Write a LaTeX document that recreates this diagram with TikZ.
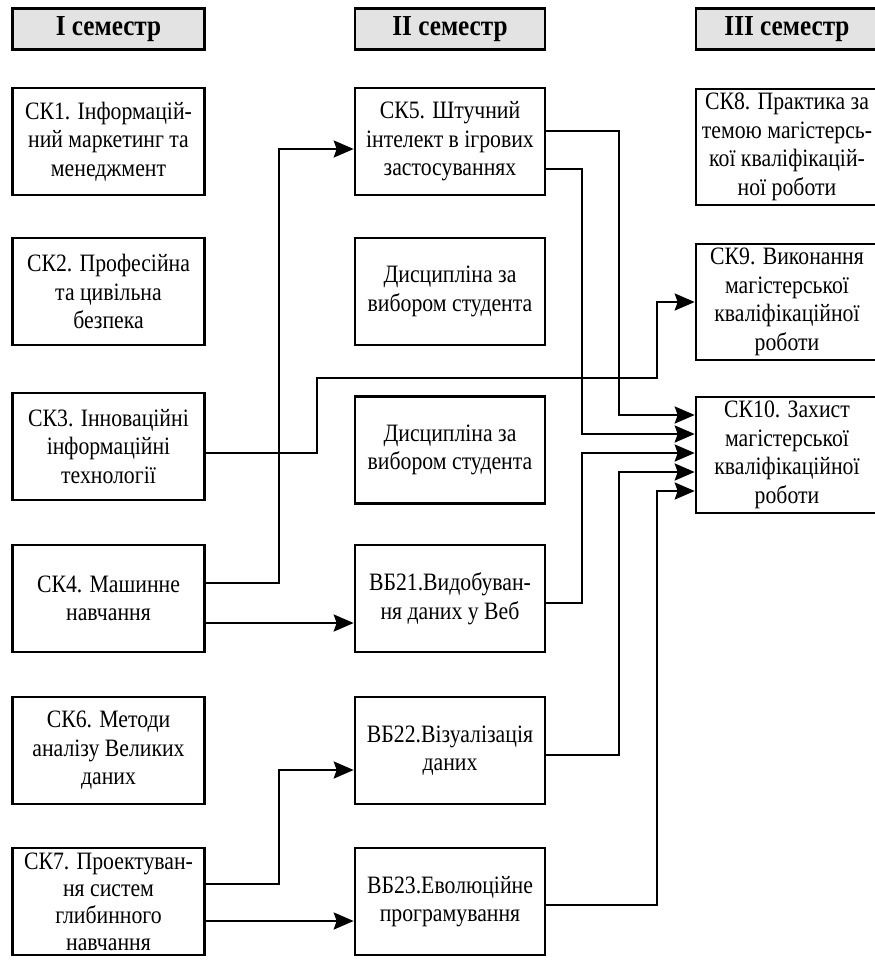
\documentclass[tikz,border=0pt]{standalone}
\usepackage{fontspec}
\setmainfont[FakeStretch=0.87]{Liberation Serif}
\usetikzlibrary{arrows.meta}
\tikzset{
  blk/.style={draw, line width=2.6pt, minimum height=107pt, inner sep=0pt, align=center,
    font=\fontsize{25}{28.5}\selectfont},
  lbox/.style={blk, minimum width=192pt},
  mbox/.style={blk, minimum width=190pt},
  rbox/.style={blk, minimum width=182pt, minimum height=116pt},
  hdr/.style={draw, line width=2.4pt, fill=gray!22, minimum height=41pt, inner sep=0pt,
    font=\fontsize{29}{32}\selectfont\bfseries},
  conn/.style={line width=2.4pt},
  arr/.style={conn, -{Stealth[length=20pt,width=17pt,inset=3pt]}}
}
\begin{document}
\begin{tikzpicture}[x=1pt,y=-1pt]
\useasboundingbox (0,0) rectangle (875,962);
% headers
\node[hdr, minimum width=192pt] (h1) at (108.5,29) {I семестр};
\node[hdr, minimum width=190pt] (h2) at (450,29) {II семестр};
\node[hdr, minimum width=182pt] (h3) at (787,29) {III семестр};
% left column
\node[lbox] (ck1) at (108.5,141.5) {СК1. Інформацій-\\ний маркетинг та\\менеджмент};
\node[lbox] (ck2) at (108.5,291.5) {СК2. Професійна\\та цивільна\\безпека};
\node[lbox] (ck3) at (108.5,446.5) {СК3. Інноваційні\\інформаційні\\технології};
\node[lbox] (ck4) at (108.5,598.5) {СК4. Машинне\\навчання};
\node[lbox] (ck6) at (108.5,750.5) {СК6. Методи\\аналізу Великих\\даних};
\node[lbox, font=\fontsize{25}{27}\selectfont] (ck7) at (108.5,901.5) {СК7. Проектуван-\\ня систем\\глибинного\\навчання};
% middle column
\node[mbox] (ck5) at (450,141.5) {СК5. Штучний\\інтелект в ігрових\\застосуваннях};
\node[mbox] (d1) at (450,291.5) {Дисципліна за\\вибором студента};
\node[mbox] (d2) at (450,450) {Дисципліна за\\вибором студента};
\node[mbox] (vb21) at (450,598.5) {ВБ21.Видобуван-\\ня даних у Веб};
\node[mbox] (vb22) at (450,750.5) {ВБ22.Візуалізація\\даних};
\node[mbox] (vb23) at (450,901.5) {ВБ23.Еволюційне\\програмування};
% right column
\node[rbox] (ck8) at (787,147) {СК8. Практика за\\темою магістерсь-\\кої кваліфікацій-\\ної роботи};
\node[rbox] (ck9) at (787,302) {СК9. Виконання\\магістерської\\кваліфікаційної\\роботи};
\node[rbox] (ck10) at (787,455) {СК10. Захист\\магістерської\\кваліфікаційної\\роботи};
% connectors
\draw[arr] (ck4.east |- 0,583) -- (279,583) -- (279,149) -- (ck5.west |- 0,149);
\draw[arr] (ck4.east |- 0,623) -- (vb21.west |- 0,623);
\draw[arr] (ck3.east |- 0,453) -- (317,453) -- (317,378) -- (657,378) -- (657,302) -- (ck9.west |- 0,302);
\draw[arr] (ck5.east |- 0,131) -- (619,131) -- (619,415) -- (ck10.west |- 0,415);
\draw[arr] (ck5.east |- 0,169) -- (582,169) -- (582,434) -- (ck10.west |- 0,434);
\draw[arr] (vb21.east |- 0,603) -- (582,603) -- (582,453) -- (ck10.west |- 0,453);
\draw[arr] (vb22.east |- 0,755) -- (619,755) -- (619,472) -- (ck10.west |- 0,472);
\draw[arr] (vb23.east |- 0,905) -- (657,905) -- (657,491) -- (ck10.west |- 0,491);
\draw[arr] (ck7.east |- 0,884) -- (279,884) -- (279,770) -- (vb22.west |- 0,770);
\draw[arr] (ck7.east |- 0,921) -- (vb23.west |- 0,921);
\end{tikzpicture}
\end{document}
